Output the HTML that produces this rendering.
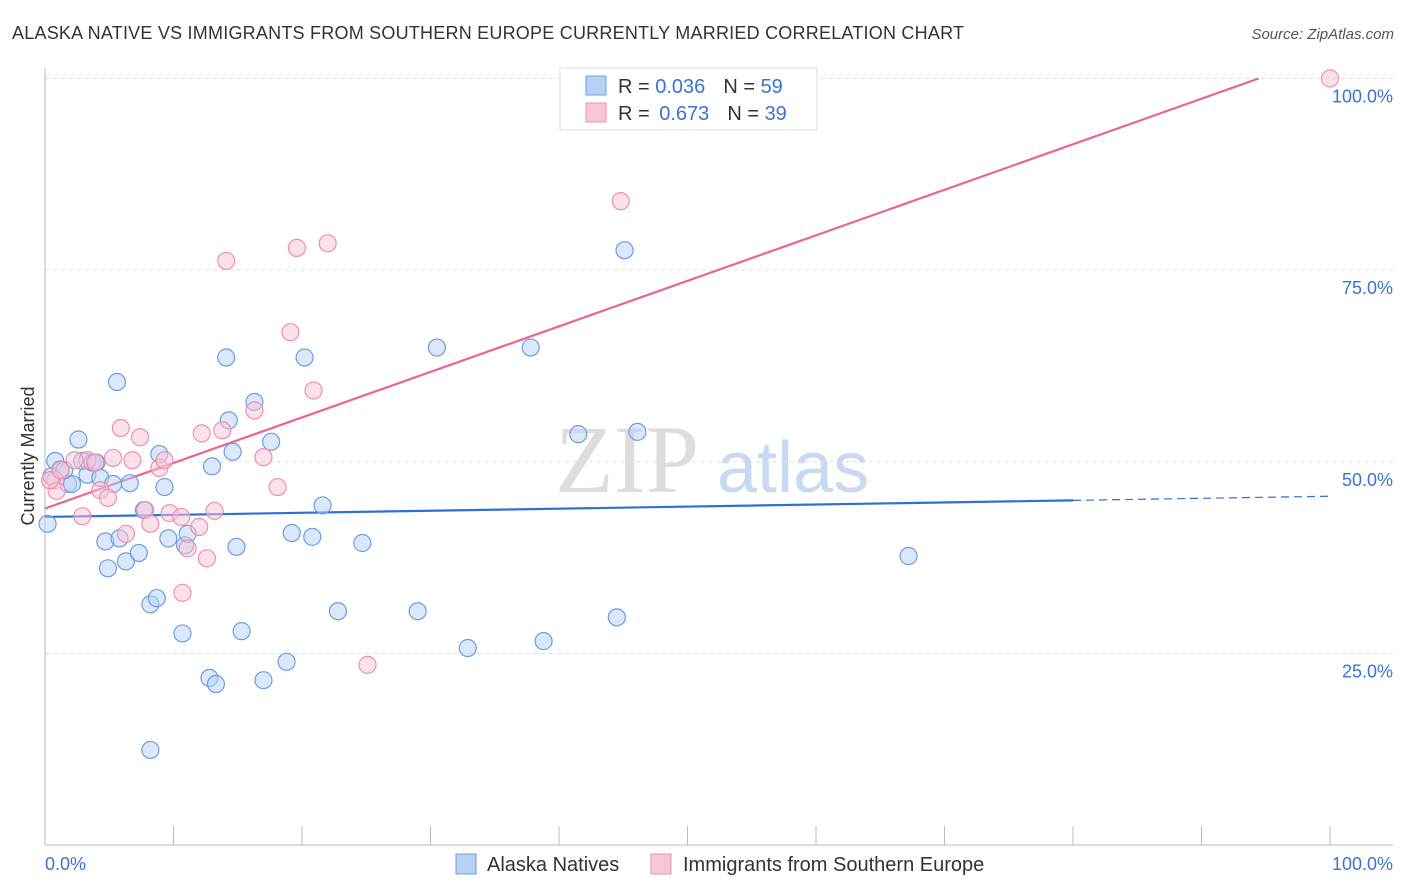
<!DOCTYPE html>
<html><head><meta charset="utf-8"><style>
body{margin:0;background:#fff;font-family:"Liberation Sans",sans-serif;}
svg{display:block}
</style></head><body>
<svg id="chart" width="1406" height="892">
<text x="12" y="39" font-size="18" fill="#333" textLength="952">ALASKA NATIVE VS IMMIGRANTS FROM SOUTHERN EUROPE CURRENTLY MARRIED CORRELATION CHART</text>
<text x="1394" y="39" font-size="15" fill="#555" font-style="italic" text-anchor="end">Source: ZipAtlas.com</text>
<text x="555" y="492" font-size="96" fill="#ddd" font-family="Liberation Serif,serif">ZIP</text>
<text x="717" y="492" font-size="72" fill="#c8daf2">atlas</text>
<g id="grid"></g><g id="axes"></g><g id="lines"></g><g id="pts"></g>
<text x="34" y="456" font-size="18" fill="#333" text-anchor="middle" transform="rotate(-90 34 456)">Currently Married</text>
<g>
<rect x="560" y="68" width="257" height="62" fill="#fff" stroke="#ddd"/>
<rect x="586" y="76" width="20" height="19" fill="#b7d1f3" stroke="#6a9fe0"/>
<rect x="586" y="103" width="20" height="19" fill="#f8c6d6" stroke="#ee8fb0"/>
<text x="618" y="93" font-size="20" fill="#333">R = <tspan fill="#3b73d1">0.036</tspan><tspan dx="18">N = </tspan><tspan fill="#3b73d1">59</tspan></text>
<text x="618" y="120" font-size="20" fill="#333">R = <tspan fill="#3b73d1" dx="4">0.673</tspan><tspan dx="18">N = </tspan><tspan fill="#3b73d1">39</tspan></text>
</g>
<g>
<rect x="456" y="854" width="20" height="20" fill="#b7d1f3" stroke="#6a9fe0"/>
<text x="487" y="871" font-size="20" fill="#333">Alaska Natives</text>
<rect x="651" y="854" width="20" height="20" fill="#f8c6d6" stroke="#ee8fb0"/>
<text x="683" y="871" font-size="20" fill="#333">Immigrants from Southern Europe</text>
</g>
</svg>
<script>
const yTicks=[25,50,75,100];
const yTickLabels=["25.0%","50.0%","75.0%","100.0%"];
const xTicks=[0,10,20,30,40,50,60,70,80,90,100];
const blueX=[0.2,0.8,1.2,1.8,2.1,2.6,2.9,3.3,3.7,4.0,4.3,4.7,4.9,5.3,5.6,5.8,6.3,6.6,7.3,7.7,8.2,8.2,8.7,8.9,9.3,9.6,10.7,10.9,11.1,12.8,13.0,13.3,14.1,14.3,14.6,14.9,15.3,16.3,17.0,17.6,18.8,19.2,20.2,20.8,21.6,22.8,24.7,29.0,30.5,32.9,37.8,38.8,41.5,44.5,45.1,46.1,67.2,0.5,1.5];
const blueY=[41.9,50.1,49.0,47.1,47.1,52.9,50.1,48.3,49.9,49.9,47.9,39.6,36.1,47.1,60.4,40.0,37.0,47.2,38.1,43.7,12.4,31.4,32.2,51.0,46.7,40.0,27.6,39.1,40.6,21.8,49.4,21.0,63.6,55.4,51.3,38.9,27.9,57.8,21.5,52.6,23.9,40.7,63.6,40.2,44.3,30.5,39.4,30.5,64.9,25.7,64.9,26.6,53.6,29.7,77.6,53.9,37.7,48.1,48.9];
const pinkX=[100,44.8,14.1,19.6,22.0,19.1,20.9,16.3,5.9,7.4,12.2,13.8,17.0,18.1,8.9,9.3,6.8,5.3,3.3,2.3,0.8,0.9,2.9,4.3,4.9,7.8,8.2,9.7,10.6,11.1,12.0,12.6,13.2,10.7,25.1,6.3,3.9,0.4,1.2];
const pinkY=[100,84.0,76.2,77.9,78.5,66.9,59.3,56.7,54.4,53.2,53.7,54.1,50.6,46.7,49.2,50.2,50.2,50.5,50.2,50.2,47.6,46.2,42.9,46.3,45.3,43.7,41.9,43.3,42.8,38.7,41.5,37.4,43.6,32.9,23.5,40.6,49.9,47.6,48.9];
const blueTrend=[42.8,45.5];
const pinkTrend=[43.9,103.3];
const NS="http://www.w3.org/2000/svg";
const X=v=>45+v*12.85, Y=v=>845-v*7.665;
function mk(tag,attrs,parent){const e=document.createElementNS(NS,tag);for(const k in attrs)e.setAttribute(k,attrs[k]);document.getElementById(parent).appendChild(e);return e;}
yTicks.forEach((t,i)=>{
 const g=mk('line',{x1:45,x2:1393,y1:Y(t),y2:Y(t),stroke:'#ddd','stroke-dasharray':'4,4'},'grid');
 
 
 const l=mk('text',{x:1393,y:Y(t)+24,'font-size':18,fill:'#3b73d1','text-anchor':'end'},'axes');
 l.textContent=yTickLabels[i];
 
 
});
const a=mk('line',{x1:45,x2:45,y1:68,y2:845,stroke:'#bbb'},'axes');


const b=mk('line',{x1:45,x2:1393,y1:845,y2:845,stroke:'#bbb'},'axes');


xTicks.forEach(t=>{
 const k=mk('line',{x1:X(t),x2:X(t),y1:826,y2:845,stroke:'#bbb'},'axes');
 
 
});
[[0,'start','0.0%'],[100,'end','100.0%']].forEach(([t,an,s])=>{
 const l=mk('text',{x:X(t)+(t?63:0),y:870,'font-size':18,fill:'#3b73d1','text-anchor':an},'axes');
 l.textContent=s;
 
 
});
function pts(xs,ys,fill,stroke,name){xs.forEach((x,i)=>{
 const c=mk('circle',{cx:X(x),cy:Y(ys[i]),r:8.5,fill:fill,'fill-opacity':0.5,stroke:stroke,'stroke-width':1.2},'pts');
 
 
});}
pts(blueX,blueY,'#b7d1f3','#6a9fe0','alaska-native-point');
pts(pinkX,pinkY,'#f8c6d6','#ee8fb0','southern-europe-point');
const bt=v=>blueTrend[0]+(blueTrend[1]-blueTrend[0])*v/100;
const l1=mk('line',{x1:X(0),y1:Y(bt(0)),x2:X(80),y2:Y(bt(80)),stroke:'#2f6fd6','stroke-width':2.2},'lines');


const l2=mk('line',{x1:X(80),y1:Y(bt(80)),x2:X(100),y2:Y(bt(100)),stroke:'#2f6fd6','stroke-width':1.2,'stroke-dasharray':'8,5'},'lines');


const pEnd=Math.min(100,(100-pinkTrend[0])/(pinkTrend[1]-pinkTrend[0])*100);
const pt=v=>pinkTrend[0]+(pinkTrend[1]-pinkTrend[0])*v/100;
const l3=mk('line',{x1:X(0),y1:Y(pinkTrend[0]),x2:X(pEnd),y2:Y(pt(pEnd)),stroke:'#e8668f','stroke-width':2.2},'lines');


</script>
</body></html>
